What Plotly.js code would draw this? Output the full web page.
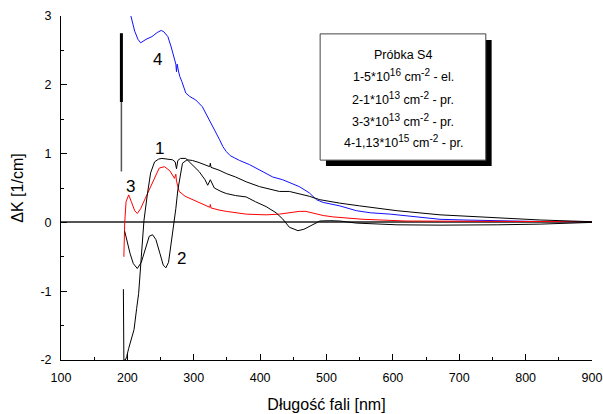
<!DOCTYPE html>
<html>
<head>
<meta charset="utf-8">
<script src="https://cdn.plot.ly/plotly-3.0.1.min.js"></script>
<style>html,body{margin:0;padding:0;background:#fff;}#chart{width:603px;height:414px;}</style>
</head>
<body>
<div id="chart"></div>
<script>
// Curve 1: 5*10^16 cm^-2 - el. (black)
const x1 = [194,194.7,197,199,202,206,210,214,217,221,225,230,235,241,247,252,260,268,272,274,276,280,288,297,308,317,321,325,331,341,349,363,379,393,409,424,434,444,457,466,474,483,490,505,520,545,581,606,671,707,758,822,869,900];
const y1 = [-0.97,-2.0,-2.0,-1.95,-1.83,-1.7,-1.56,-1.25,-1.03,-0.5,0.03,0.4,0.72,0.88,0.92,0.93,0.92,0.91,0.88,0.78,0.9,0.93,0.93,0.85,0.74,0.62,0.54,0.62,0.5,0.45,0.42,0.39,0.37,0.3,0.23,0.14,0.05,-0.07,-0.12,-0.1,-0.06,-0.01,0.02,0.025,0.02,-0.01,-0.03,-0.035,-0.04,-0.04,-0.035,-0.025,-0.015,0.0];
// Curve 2: 1*10^13 cm^-2 - pr. (black)
const x2 = [196,199,204,209,215,221,228,233,238,243,249,254,258,262,266,270,273,276,280,283,290,298,308,318,324,325,326,338,349,363,379,399,414,429,444,459,474,490,505,520,550,581,606,671,707,758,822,869,900];
const y2 = [-0.13,-0.25,-0.45,-0.6,-0.67,-0.58,-0.35,-0.2,-0.18,-0.25,-0.45,-0.62,-0.66,-0.58,-0.3,-0.05,0.2,0.47,0.72,0.86,0.91,0.9,0.87,0.83,0.81,0.86,0.8,0.76,0.71,0.66,0.59,0.52,0.48,0.45,0.45,0.42,0.38,0.33,0.3,0.28,0.24,0.2,0.17,0.11,0.09,0.06,0.035,0.02,0.01];
// Curve 3: 3*10^13 cm^-2 - pr. (red)
const x3 = [194.7,196,198,202,206,211,215,220,227,233,240,248,256,264,271,273,274,278,287,298,313,324,325,326,338,349,379,409,429,444,459,469,480,495,510,520,555,620,707,808,900];
const y3 = [-0.5,0.0,0.3,0.4,0.3,0.17,0.13,0.2,0.35,0.48,0.64,0.79,0.81,0.75,0.64,0.7,0.6,0.45,0.38,0.33,0.27,0.22,0.26,0.21,0.18,0.16,0.12,0.11,0.12,0.14,0.16,0.16,0.13,0.1,0.08,0.07,0.045,0.02,0.015,0.01,0.01];
// Curve 4: 1,13*10^15 cm^-2 - pr. (blue)
const x4 = [204,207,211,216,220,228,237,245,251,255,261,266,271,273,274,275,277,279,282,288,294,303,313,324,332,339,344,349,355,361,369,384,399,419,434,459,474,485,495,505,520,545,566,596,636,671,707,746,808,880,900];
const y4 = [3.05,2.92,2.78,2.66,2.61,2.66,2.7,2.76,2.79,2.77,2.7,2.55,2.36,2.3,2.19,2.3,2.2,2.12,2.05,1.88,1.83,1.78,1.68,1.49,1.33,1.2,1.1,1.03,0.97,0.94,0.9,0.84,0.76,0.66,0.62,0.52,0.43,0.33,0.29,0.27,0.24,0.17,0.14,0.12,0.08,0.045,0.035,0.025,0.015,0.01,0.005];
// Spike artefact at lamp change
const spikeX = [191,191];
const spikeY = [2.75,1.75];
const spike2X = [191,191];
const spike2Y = [1.75,0.74];

const labelX = [248,281,204,245];
const labelY = [1.08,-0.52,0.52,2.37];
const labelText = ['1','2','3','4'];

const sup = s => '<sup><span style="font-size:10px">' + s + '</span></sup>';
const legendLines = ['Próbka S4',
  '1-5*10' + sup('16') + ' cm' + sup('-2') + ' - el.',
  '2-1*10' + sup('13') + ' cm' + sup('-2') + ' - pr.',
  '3-3*10' + sup('13') + ' cm' + sup('-2') + ' - pr.',
  '4-1,13*10' + sup('15') + ' cm' + sup('-2') + ' - pr.'];

const xTicks = [100,200,300,400,500,600,700,800,900];
const yTicks = [-2,-1,0,1,2,3];

const font = 'Arial, "Liberation Sans", sans-serif';

const traces = [
  {x: spikeX, y: spikeY, mode:'lines', line:{color:'#000', width:3}, showlegend:false, hoverinfo:'skip'},
  {x: spike2X, y: spike2Y, mode:'lines', line:{color:'#555', width:1.5}, showlegend:false, hoverinfo:'skip'},
  {x: x4, y: y4, mode:'lines', line:{color:'#1010ff', width:1}, showlegend:false},
  {x: x3, y: y3, mode:'lines', line:{color:'#ff0000', width:1}, showlegend:false},
  {x: x2, y: y2, mode:'lines', line:{color:'#000', width:1}, showlegend:false},
  {x: x1, y: y1, mode:'lines', line:{color:'#000', width:1}, showlegend:false}
];

const annotations = labelText.map((t,i)=>({x:labelX[i], y:labelY[i], xref:'x', yref:'y', text:t, showarrow:false, font:{family:font, size:17, color:'#000'}}));
const lineY = [0.887, 0.826, 0.760, 0.697, 0.634];
legendLines.forEach((t,i)=>annotations.push({x:0.645, y:lineY[i], xref:'paper', yref:'paper', text:t, showarrow:false, xanchor:'center', yanchor:'middle', font:{family:font, size:12.5, color:'#000'}}));

const layout = {
  width:603, height:414,
  margin:{l:61, r:11, t:16, b:54},
  paper_bgcolor:'#fff', plot_bgcolor:'#fff',
  showlegend:false,
  font:{family:font, color:'#000'},
  xaxis:{
    range:[100,900], tickvals:xTicks, ticktext:xTicks.map(String),
    ticks:'inside', ticklen:6, tickwidth:1, tickcolor:'#000',
    minor:{dtick:50, ticks:'inside', ticklen:3, tickcolor:'#000', showgrid:false},
    showline:true, linecolor:'#000', linewidth:1, mirror:false,
    showgrid:false, zeroline:false, automargin:false,
    ticklabeloverflow:'allow', ticklabelstandoff:6,
    tickfont:{family:font, size:12.5, color:'#000'},
    title:{text:'Długość fali [nm]', font:{family:font, size:16, color:'#000'}, standoff:14}
  },
  yaxis:{
    range:[-2,3], tickvals:yTicks, ticktext:yTicks.map(String),
    ticks:'inside', ticklen:6, tickwidth:1, tickcolor:'#000',
    minor:{dtick:0.5, ticks:'inside', ticklen:3, tickcolor:'#000', showgrid:false},
    showline:true, linecolor:'#000', linewidth:1, mirror:false,
    showgrid:false, zeroline:true, zerolinecolor:'#555', zerolinewidth:2, automargin:false,
    ticklabeloverflow:'allow', ticklabelstandoff:6,
    tickfont:{family:font, size:12.5, color:'#000'},
    title:{text:'ΔK [1/cm]', font:{family:font, size:16, color:'#000'}, standoff:12}
  },
  shapes:[
    {type:'rect', xref:'paper', yref:'paper', x0:0.499, x1:0.811, y0:0.564, y1:0.930, fillcolor:'#000', line:{width:0}},
    {type:'rect', xref:'paper', yref:'paper', x0:0.488, x1:0.800, y0:0.581, y1:0.948, fillcolor:'#fff', line:{color:'#444', width:1}}
  ],
  annotations: annotations
};

Plotly.newPlot('chart', traces, layout, {staticPlot:true, displayModeBar:false});
</script>
</body>
</html>
